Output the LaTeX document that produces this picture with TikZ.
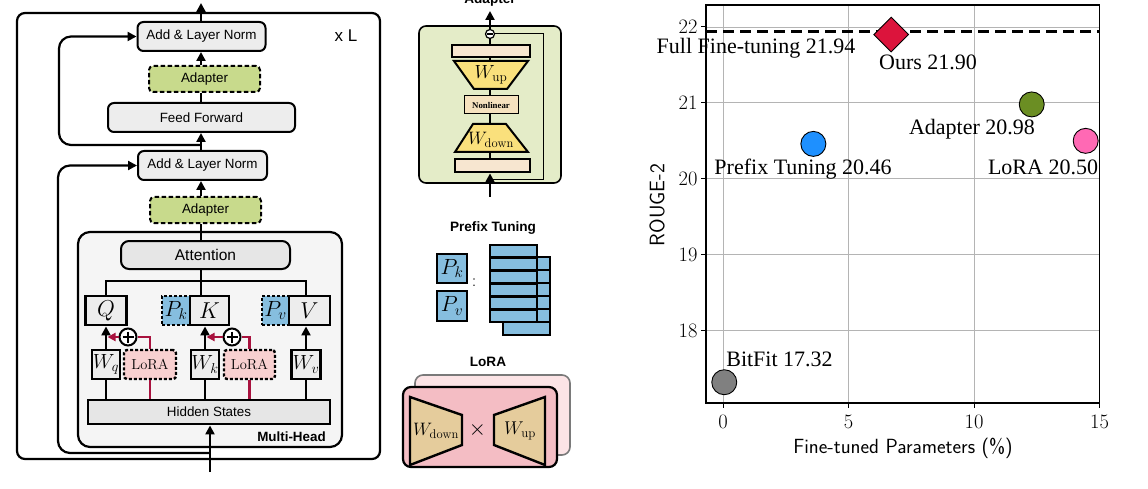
\RequirePackage{fix-cm}
\documentclass[tikz,border=0pt]{standalone}
\usepackage{fontspec}
\newfontfamily\arialf{Liberation Sans}
\newfontfamily\timesf{Liberation Serif}
\usetikzlibrary{arrows.meta,calc,shapes.geometric}
\newcommand\fsz[1]{\fontsize{#1}{#1}\selectfont}
\definecolor{boxgray}{HTML}{EDEDED}
\definecolor{adgreen}{HTML}{C8DA8C}
\definecolor{mhfill}{HTML}{F5F5F5}
\definecolor{attfill}{HTML}{E6E6E6}
\definecolor{pblue}{HTML}{86BEDF}
\definecolor{lpink}{HTML}{F8D0D0}
\definecolor{redc}{HTML}{A8123E}
\definecolor{adbg}{HTML}{E4ECC8}
\definecolor{barbeige}{HTML}{F7E6D0}
\definecolor{trapyellow}{HTML}{FAE07C}
\definecolor{nonlin}{HTML}{F6E2BF}
\definecolor{lback}{HTML}{FCE4E6}
\definecolor{lbackdraw}{HTML}{7A7A7A}
\definecolor{lfront}{HTML}{F4BDC4}
\definecolor{tan}{HTML}{E5CC9C}
\definecolor{gridc}{HTML}{B4B4B4}
\definecolor{cours}{HTML}{DC143C}
\definecolor{cadapter}{HTML}{6B8E23}
\definecolor{cprefix}{HTML}{1E90FF}
\definecolor{clora}{HTML}{FF69B4}
\definecolor{cbitfit}{HTML}{808080}
\begin{document}
\begin{tikzpicture}[x=1pt,y=-1pt,
  box/.style={draw, line width=2pt, rounded corners=6pt, fill=boxgray, inner sep=0, font=\arialf\fsz{13.4}},
  adap/.style={draw, dash pattern=on 4.5pt off 2.5pt, line width=2pt, rounded corners=4pt, fill=adgreen, inner sep=0, font=\arialf\fsz{13.4}},
  sq/.style={draw, line width=2.9pt, fill=boxgray, inner sep=0, font=\fsz{23}},
  pbox/.style={draw, dash pattern=on 3pt off 2pt, line width=2.8pt, fill=pblue, inner sep=0, font=\fsz{22}},
  lorabox/.style={draw, dash pattern=on 3pt off 2pt, line width=2.4pt, fill=lpink, rounded corners=3pt, inner sep=0, font=\rmfamily\fsz{14.5}},
  arr/.style={line width=2.8pt, -{Triangle[length=9pt,width=9pt]}},
  ln/.style={line width=2.8pt},
  res/.style={line width=2.2pt, rounded corners=12pt, -{Triangle[length=9pt,width=9pt]}},
  redln/.style={line width=2.8pt, draw=redc},
  redarr/.style={line width=2.8pt, draw=redc, -{Triangle[length=8pt,width=8pt]}, fill=redc},
  plusc/.style={circle, draw, line width=2pt, fill=white, inner sep=0, minimum size=17},
  btitle/.style={font=\arialf\bfseries\fsz{13.6}, inner sep=0},
  bar/.style={draw, line width=2.8pt, fill=barbeige, inner sep=0},
  prow/.style={draw, line width=2.8pt, fill=pblue, inner sep=0, minimum width=47, minimum height=12.9},
  trap/.style={line width=2pt, draw, fill=trapyellow, line join=miter},
  ltrap/.style={line width=2.4pt, draw, fill=tan},
  mk/.style={circle, draw, line width=0.9pt, inner sep=0, minimum size=25},
  clab/.style={font=\timesf\fsz{22}, inner sep=0, anchor=base},
  tlab/.style={font=\rmfamily\fsz{20.5}, inner sep=0},
  gline/.style={draw=gridc, line width=0.8pt}
]
\useasboundingbox (0,0) rectangle (1148,489);
\clip (0,0) rectangle (1148,489);
\fill[white] (0,0) rectangle (1148,489);

% ================= Transformer layer =================
\node[draw, line width=2.2pt, rounded corners=8pt, minimum width=363, minimum height=446, inner sep=0] (layer) at (198.5,236) {};
\node[font=\arialf\fsz{17}, inner sep=0] (xl) at (346,36) {x L};

\node[box, minimum width=128, minimum height=29] (an1) at (201.5,36.5) {Add \& Layer Norm};
\node[adap, minimum width=111, minimum height=26] (ad1) at (204.5,79) {Adapter};
\node[box, minimum width=187, minimum height=29] (ff) at (201.5,117.5) {Feed Forward};
\node[box, minimum width=129, minimum height=29] (an2) at (202.5,165.5) {Add \& Layer Norm};
\node[adap, minimum width=111, minimum height=26] (ad2) at (205.5,210) {Adapter};

\node[draw, line width=2.2pt, rounded corners=12pt, fill=mhfill, minimum width=264, minimum height=215, inner sep=0] (mh) at (210,339.5) {};
\node[font=\arialf\bfseries\fsz{13.4}, inner sep=0] (mhl) at (291.5,437) {Multi-Head};
\node[box, rounded corners=8pt, fill=attfill, minimum width=169, minimum height=28, font=\arialf\fsz{15.5}] (att) at (205.5,255) {Attention};

\node[sq, minimum width=41, minimum height=29] (Q) at (106,310.5) {$Q$};
\node[pbox, minimum width=28, minimum height=29] (Pk) at (176,310.5) {$P_k$};
\node[sq, minimum width=39, minimum height=29] (K) at (209.5,310.5) {$K$};
\node[pbox, minimum width=27, minimum height=29] (Pv) at (275.5,310.5) {$P_v$};
\node[sq, minimum width=41, minimum height=29] (V) at (309.5,310.5) {$V$};

\node[sq, minimum width=28, minimum height=29, font=\fsz{20.5}] (wq) at (106,364.5) {$W_q$};
\node[lorabox, minimum width=52, minimum height=29] (lo1) at (150,364.5) {LoRA};
\node[sq, minimum width=28, minimum height=29, font=\fsz{20.5}] (wk) at (205,364.5) {$W_k$};
\node[lorabox, minimum width=51, minimum height=29] (lo2) at (249.5,364.5) {LoRA};
\node[sq, minimum width=29, minimum height=29, font=\fsz{20.5}] (wv) at (306,364.5) {$W_v$};
\node[sq, fill=attfill, minimum width=242, minimum height=24, font=\arialf\fsz{13.4}] (hid) at (209,412) {Hidden States};

\coordinate (topout) at (201,3);
\draw[arr] (an1.north -| topout) -- (topout);
\draw[arr] (ad1.north -| topout) -- (an1.south -| topout);
\draw[ln] (ff.north -| topout) -- (ad1.south -| topout);
\draw[arr] (an2.north -| topout) -- (ff.south -| topout);
\draw[arr] (ad2.north -| topout) -- (an2.south -| topout);
\draw[ln] (ad2.south -| topout) -- (att.north -| topout);

\coordinate (bar) at (201,281);
\draw[ln] (att.south -| bar) -- (bar);
\draw[ln] (Q.north) |- (bar) -| (V.north -| wv);
\draw[ln] (bar) -- (K.north -| bar);

\draw[ln] (hid.north -| wq) -- (wq.south);
\draw[arr] (wq.north) -- (Q.south -| wq.north);
\draw[ln] (hid.north -| wk) -- (wk.south);
\draw[arr] (wk.north) -- (K.south -| wk.north);
\draw[ln] (hid.north -| wv) -- (wv.south);
\draw[arr] (wv.north) -- (V.south -| wv.north);

\node[plusc] (p1) at (128,337) {};
\node[plusc] (p2) at (232,337) {};
\foreach \p in {p1,p2}{
  \draw[line width=2pt] ($(\p)+(-5.5,0)$) -- ($(\p)+(5.5,0)$);
  \draw[line width=2pt] ($(\p)+(0,-5.5)$) -- ($(\p)+(0,5.5)$);
}
\draw[redln] (hid.north -| lo1) -- (lo1.south);
\draw[redln] (lo1.north) |- (p1.east);
\draw[redarr] (p1.west) -- ($(p1.west -| wq.north)+(1.5,0)$);
\draw[redln] (hid.north -| lo2) -- (lo2.south);
\draw[redln] (lo2.north) |- (p2.east);
\draw[redarr] (p2.west) -- ($(p2.west -| wk.north)+(1.5,0)$);

\coordinate (r1) at (201,145);
\draw[res] (r1) -- ++(-142,0) |- (an1.west);
\coordinate (r2) at (210,453);
\draw[res] (r2) -- ++(-152,0) |- (an2.west);
\coordinate (inp) at (210,472);
\draw[arr] (inp) -- (hid.south -| inp);

% ================= Adapter module =================
\node[btitle] (adt) at (490,0) {Adapter};
\node[draw, line width=1.6pt, rounded corners=7pt, fill=adbg, minimum width=142, minimum height=157, inner sep=0] (adm) at (490,104.5) {};
\coordinate (adin) at (490,197);
\coordinate (adout) at (490,11);
\node[circle, draw, line width=1.2pt, fill=white, inner sep=0, minimum size=9] (mc) at (490,34) {};
\draw[line width=1.2pt] ($(mc)+(-3,0)$) -- ($(mc)+(3,0)$);
\draw[line width=1pt] (mc.east) -- (543,34) -- (543,180) -- (490,180);
\draw[ln] (490,172) -- (mc.south);
\node[bar, minimum width=78, minimum height=12] (tb) at (491,51) {};
\node[bar, minimum width=75, minimum height=13] (bb) at (492.5,165.5) {};
\draw[trap] (454,61) -- (528,61) -- (507,89) -- (474,89) -- cycle;
\node[font=\fsz{19}, inner sep=0] (wup) at (491,75) {$W_{\mathrm{up}}$};
\node[draw, line width=1pt, fill=nonlin, minimum width=54, minimum height=18, inner sep=0, font=\timesf\bfseries\fsz{8.8}] (nl) at (491,105) {Nonlinear};
\draw[trap] (473,124) -- (506,124) -- (528,152) -- (455,152) -- cycle;
\node[font=\fsz{18}, inner sep=0] (wdown) at (491,140) {$W_{\mathrm{down}}$};
\draw[arr] (adin) -- (bb.south -| adin);
\draw[arr] (mc.north) -- (adout);

% ================= Prefix tuning =================
\node[btitle] (pft) at (493,228) {Prefix Tuning};
\node[draw, line width=2.8pt, fill=pblue, minimum width=30, minimum height=29, inner sep=0, font=\fsz{22}] (pk2) at (452,268.5) {$P_k$};
\node[draw, line width=2.8pt, fill=pblue, minimum width=30, minimum height=30, inner sep=0, font=\fsz{22}] (pv2) at (452,306) {$P_v$};
\node[font=\fsz{18}, inner sep=0] (colon) at (474,283) {:};
\foreach \i in {0,...,5}{
  \node[prow] (bk\i) at (526.5,{263.5+13*\i}) {};
}
\foreach \i in {0,...,5}{
  \node[prow] (fr\i) at (513.5,{251.4+12.83*\i}) {};
}

% ================= LoRA =================
\node[btitle] (lrt) at (488,362) {LoRA};
\node[draw=lbackdraw, line width=1.6pt, rounded corners=8pt, fill=lback, minimum width=155, minimum height=80, inner sep=0] (lb) at (492.5,415) {};
\node[draw, line width=2.2pt, rounded corners=8pt, fill=lfront, minimum width=154, minimum height=80, inner sep=0] (lf) at (480,427) {};
\draw[ltrap] (410,397) -- (462,415) -- (462,445) -- (410,465) -- cycle;
\node[font=\fsz{18}, inner sep=0] (lwd) at (436,431) {$W_{\mathrm{down}}$};
\node[font=\fsz{22}, inner sep=0] (times) at (477.5,430) {$\times$};
\draw[ltrap] (494,415) -- (545,397) -- (545,465) -- (494,445) -- cycle;
\node[font=\fsz{18.5}, inner sep=0] (lwu) at (520,431) {$W_{\mathrm{up}}$};

% ================= Chart =================
\begin{scope}[shift={(723,1696.8)}, x=25.1pt, y=75.9pt]
  \foreach \v in {0,5,10} \draw[gline] (\v,17.046) -- (\v,22.29);
  \foreach \r in {18,...,22} \draw[gline] (-0.677,\r) -- (15,\r);
  \draw[line width=1.3pt] (-0.677,17.046) rectangle (15,22.29);
  \foreach \v in {0,5,10,15} {
    \draw[line width=1pt] (\v,17.046) -- ++(0,-0.07);
    \node[tlab] (xt\v) at ($(\v,17.046)+(0,-0.25)$) {\v};
  }
  \foreach \r in {18,...,22} {
    \draw[line width=1pt] (-0.677,\r) -- ++(-0.2,0);
    \node[tlab, anchor=east] (yt\r) at ($(-0.677,\r)+(-0.33,0)$) {\r};
  }
  \draw[line width=3.4pt, dash pattern=on 11pt off 6pt] (-0.677,21.94) -- (15,21.94);
  \node[mk, fill=cbitfit] (mbit) at (0.05,17.32) {};
  \node[mk, fill=cprefix] (mpre) at (3.6,20.46) {};
  \node[mk, fill=cadapter] (mada) at (12.3,20.98) {};
  \node[mk, fill=clora] (mlor) at (14.45,20.50) {};
  \node[diamond, draw, line width=0.9pt, fill=cours, inner sep=0, minimum width=35, minimum height=35] (mour) at (6.7,21.90) {};
\end{scope}
\node[clab] (lfull) at (756,53.5) {Full Fine-tuning 21.94};
\node[clab] (lour) at (928,70) {Ours 21.90};
\node[clab] (lada) at (972,134.5) {Adapter 20.98};
\node[clab] (lpre) at (803,174.5) {Prefix Tuning 20.46};
\node[clab] (llor) at (1043,174.5) {LoRA 20.50};
\node[clab] (lbit) at (779.5,366.5) {BitFit 17.32};
\node[font=\sffamily\fsz{20.5}, inner sep=0] (xlab) at (903,448) {Fine-tuned Parameters (\%)};
\node[font=\sffamily\fsz{21}, inner sep=0, rotate=90] (ylab) at (657,205) {ROUGE-2};
\end{tikzpicture}
\end{document}
